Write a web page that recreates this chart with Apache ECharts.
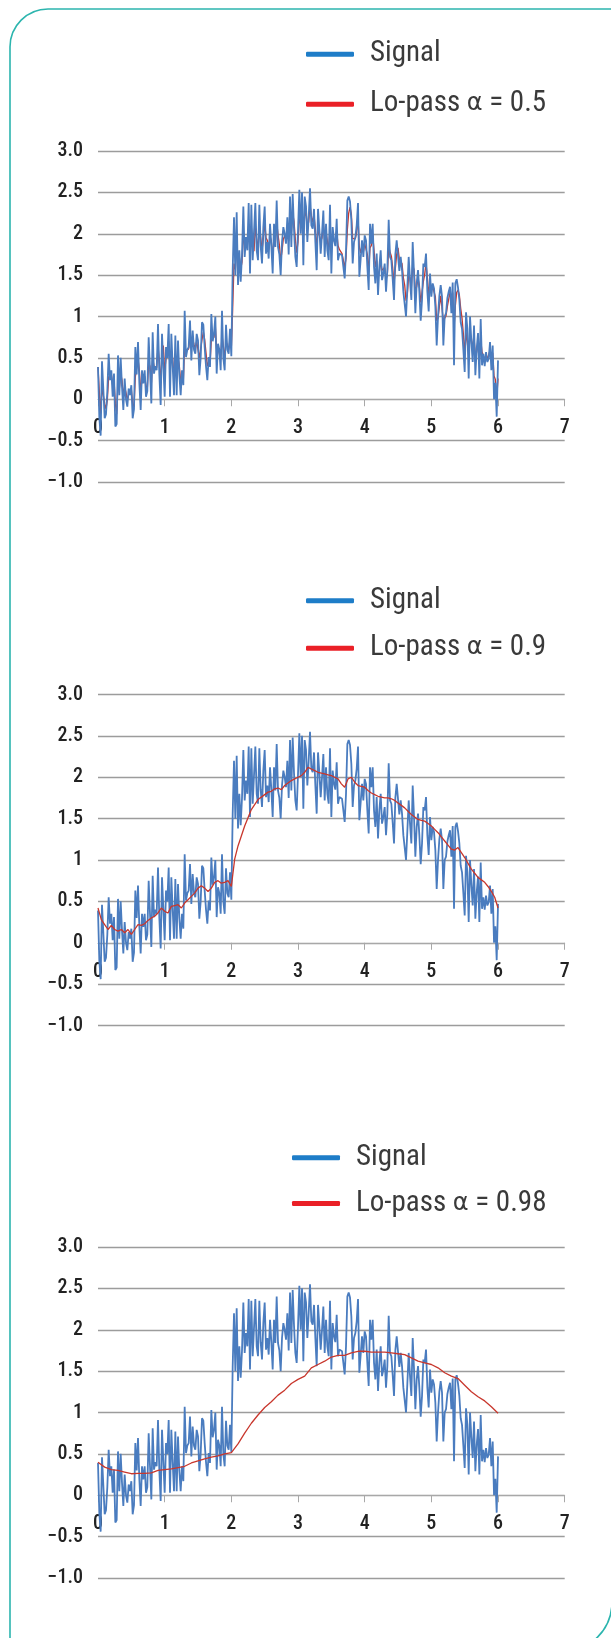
<!DOCTYPE html>
<html>
<head>
<meta charset="utf-8">
<script src="https://cdn.jsdelivr.net/npm/echarts@6/dist/echarts.min.js"></script>
<style>
html,body{margin:0;padding:0;background:#fff;}
#chart{width:611px;height:1638px;}
</style>
</head>
<body>
<div id="chart"></div>
<script>
// ---- data ----
// noisy input signal, x = 0 .. 6 step 0.02
var signal = [
0.39,-0.22,-0.44,0.46,0.12,-0.23,-0.18,0.10,0.55,0.23,
0.35,0.03,0.31,-0.33,-0.30,0.53,0.05,0.50,0.15,-0.13,
0.25,0.00,-0.09,0.13,0.05,0.17,-0.23,-0.12,0.63,0.30,
0.69,0.20,-0.13,0.35,0.19,0.35,0.03,0.10,0.75,0.35,
-0.05,0.81,0.31,0.40,0.35,0.91,0.30,-0.07,0.79,0.81,
0.03,0.63,0.50,0.91,0.03,0.79,0.40,0.05,0.77,0.05,
0.71,0.30,0.05,0.35,0.17,1.07,0.51,0.60,0.63,0.95,
0.47,0.83,0.60,0.55,0.79,0.71,0.29,0.50,0.93,0.90,
0.63,0.40,0.23,0.51,0.39,1.03,0.70,0.79,1.00,0.31,
0.67,0.60,0.35,1.07,0.50,0.35,0.90,0.60,0.55,0.85,
0.52,1.55,2.20,1.50,2.26,1.38,1.80,1.42,1.75,2.33,
1.72,1.96,1.80,2.37,1.52,2.35,1.68,1.70,2.37,1.80,
1.68,2.35,1.85,1.64,2.08,2.33,1.76,1.90,1.70,2.12,
1.85,1.52,2.12,1.84,2.40,1.84,1.75,1.50,1.90,2.08,
2.00,1.88,2.20,1.75,2.45,1.84,2.48,2.05,1.72,1.60,
2.04,2.53,2.00,2.50,1.62,2.45,2.33,1.90,2.20,2.55,
2.10,2.06,2.30,1.90,1.56,2.30,2.05,1.76,2.00,2.28,
1.72,2.12,1.80,1.68,2.35,1.52,2.08,1.92,1.85,2.18,
1.68,1.76,1.76,1.74,1.72,1.46,1.80,2.40,2.45,2.39,
2.16,1.64,1.90,1.96,2.10,2.37,1.48,1.70,1.92,1.72,
1.98,1.92,1.60,1.32,2.12,1.88,2.12,1.60,1.40,1.76,
1.26,1.60,1.80,1.44,1.52,1.64,1.30,1.56,2.17,1.72,
1.68,1.45,1.20,1.75,1.92,1.90,1.55,1.72,1.56,1.30,
1.28,1.00,1.35,1.72,1.44,1.20,1.90,1.52,1.04,1.40,
1.56,1.30,0.95,1.20,1.64,1.60,1.76,1.30,1.06,1.52,
1.24,1.40,1.34,1.12,0.65,1.00,1.25,1.38,1.24,0.65,
1.00,1.04,1.22,1.30,1.36,1.04,1.41,0.41,1.40,1.45,
1.35,1.20,0.93,0.85,0.60,0.33,1.05,0.85,0.25,1.00,
0.70,0.45,0.89,0.29,0.61,0.80,0.25,0.97,0.41,0.55,
0.40,0.57,0.45,0.49,0.69,0.35,0.65,0.00,0.20,-0.21,
0.47
];
// low-pass alpha = 0.5, x = 0 .. 6 step 0.02
var lowpass05 = [
0.39,0.09,-0.18,0.14,0.13,-0.05,-0.12,-0.01,0.27,0.25,
0.30,0.17,0.24,-0.05,-0.18,0.18,0.12,0.31,0.23,0.05,
0.15,0.08,-0.01,0.06,0.06,0.12,-0.06,-0.09,0.27,0.29,
0.49,0.35,0.11,0.23,0.21,0.28,0.16,0.13,0.44,0.40,
0.18,0.50,0.40,0.40,0.38,0.64,0.47,0.20,0.50,0.65,
0.34,0.49,0.49,0.70,0.37,0.58,0.49,0.27,0.52,0.28,
0.50,0.40,0.22,0.29,0.23,0.65,0.58,0.59,0.61,0.78,
0.62,0.73,0.66,0.61,0.70,0.70,0.50,0.50,0.72,0.81,
0.72,0.56,0.40,0.45,0.42,0.72,0.71,0.75,0.88,0.59,
0.63,0.62,0.48,0.78,0.64,0.50,0.70,0.65,0.60,0.72,
0.62,1.09,1.64,1.57,1.92,1.65,1.72,1.57,1.66,2.00,
1.86,1.91,1.86,2.11,1.82,2.08,1.88,1.79,2.08,1.94,
1.81,2.08,1.96,1.80,1.94,2.14,1.95,1.92,1.81,1.97,
1.91,1.71,1.92,1.88,2.14,1.99,1.87,1.68,1.79,1.94,
1.97,1.92,2.06,1.91,2.18,2.01,2.25,2.15,1.93,1.77,
1.90,2.22,2.11,2.30,1.96,2.21,2.27,2.08,2.14,2.35,
2.22,2.14,2.22,2.06,1.81,2.06,2.05,1.91,1.95,2.12,
1.92,2.02,1.91,1.80,2.07,1.80,1.94,1.93,1.89,2.04,
1.86,1.81,1.79,1.76,1.74,1.60,1.70,2.05,2.25,2.32,
2.24,1.94,1.92,1.94,2.02,2.20,1.84,1.77,1.85,1.78,
1.88,1.90,1.75,1.54,1.83,1.86,1.99,1.80,1.60,1.68,
1.47,1.54,1.67,1.56,1.54,1.59,1.45,1.51,1.84,1.78,
1.73,1.59,1.40,1.58,1.75,1.83,1.69,1.71,1.64,1.47,
1.38,1.19,1.27,1.50,1.47,1.34,1.62,1.57,1.31,1.36,
1.46,1.38,1.17,1.19,1.42,1.51,1.64,1.47,1.27,1.40,
1.32,1.36,1.35,1.24,0.95,0.98,1.12,1.25,1.25,0.95,
0.98,1.01,1.12,1.21,1.29,1.17,1.29,0.85,1.13,1.29,
1.32,1.26,1.10,0.98,0.79,0.56,0.81,0.83,0.54,0.77,
0.74,0.60,0.75,0.52,0.57,0.69,0.47,0.72,0.57,0.56,
0.48,0.53,0.49,0.49,0.59,0.47,0.56,0.28,0.24,0.02,
0.25
];
// low-pass alpha = 0.9, x = 0 .. 6 step 0.05
var lowpass09 = [
0.42,0.28,0.22,0.16,0.21,0.16,0.14,0.16,0.12,0.16,
0.10,0.16,0.22,0.21,0.23,0.27,0.30,0.32,0.36,0.42,
0.38,0.36,0.44,0.45,0.46,0.42,0.48,0.52,0.56,0.60,
0.66,0.69,0.66,0.62,0.66,0.73,0.75,0.72,0.73,0.75,
0.68,1.01,1.17,1.29,1.41,1.51,1.61,1.67,1.73,1.76,
1.79,1.82,1.83,1.86,1.87,1.85,1.90,1.93,1.96,1.98,
2.00,2.02,2.06,2.12,2.10,2.08,2.06,2.05,2.04,2.03,
2.02,2.00,1.98,1.92,1.88,1.98,2.00,1.94,1.90,1.89,
1.88,1.84,1.81,1.79,1.77,1.76,1.75,1.75,1.74,1.72,
1.69,1.66,1.63,1.59,1.55,1.52,1.49,1.48,1.47,1.44,
1.41,1.37,1.33,1.28,1.23,1.18,1.13,1.12,1.15,1.09,
1.03,0.96,0.89,0.84,0.79,0.76,0.73,0.68,0.62,0.55,
0.42
];
// low-pass alpha = 0.98, x = 0 .. 6 step 0.1
var lowpass098 = [
0.40,0.34,0.31,0.30,0.28,0.26,0.265,0.265,0.27,0.30,
0.31,0.32,0.335,0.35,0.39,0.415,0.44,0.46,0.475,0.50,
0.515,0.62,0.75,0.87,0.97,1.06,1.13,1.21,1.27,1.35,
1.40,1.44,1.54,1.58,1.62,1.67,1.69,1.69,1.72,1.74,
1.74,1.73,1.73,1.73,1.72,1.71,1.70,1.66,1.62,1.60,
1.58,1.54,1.48,1.44,1.41,1.33,1.25,1.19,1.14,1.07,
0.99
];
var alphas = ['0.5', '0.9', '0.98'];
var filtered = [lowpass05, lowpass09, lowpass098];
var yTickLabels = ['\u22121.0', '\u22120.5', '0', '0.5', '1', '1.5', '2', '2.5', '3.0'];
var xTickLabels = ['0', '1', '2', '3', '4', '5', '6', '7'];

// ---- pick a condensed face if one is installed ----
var ctx = document.createElement('canvas').getContext('2d');
function textW(font) { ctx.font = font; return ctx.measureText('Signal Lo-pass 0.98').width; }
var refW = textW("30px 'Liberation Sans', Arial, sans-serif");
var candidates = [
  {f: "'Liberation Sans Narrow'", s: ''},
  {f: "'Roboto Condensed'", s: ''},
  {f: "'DejaVu Sans Condensed'", s: ''},
  {f: "'Open Sans Condensed'", s: ''},
  {f: "'Noto Sans Condensed'", s: ''},
  {f: "'Open Sans'", s: 'condensed'},
  {f: "Roboto", s: 'condensed'},
  {f: "'Noto Sans'", s: 'condensed'},
  {f: "'DejaVu Sans'", s: 'condensed'},
  {f: "'Liberation Sans'", s: 'condensed'}
];
var pick = null;
for (var c = 0; c < candidates.length && !pick; c++) {
  var cd = candidates[c];
  var wMono = textW('30px monospace'), wSerif = textW('30px serif');
  var wPlainM = textW('30px ' + cd.f + ', monospace'), wPlainS = textW('30px ' + cd.f + ', serif');
  var present = Math.abs(wPlainM - wMono) > 0.5 || Math.abs(wPlainS - wSerif) > 0.5;
  if (!present) continue;
  var w = textW((cd.s ? cd.s + ' ' : '') + '30px ' + cd.f + ', monospace');
  if (w < refW * 0.9) pick = {family: cd.f + ', sans-serif', stretch: cd.s, ratio: w / refW};
}
var FONT = pick ? pick.family : "'Liberation Sans', Arial, sans-serif";
var STRETCH = pick && pick.stretch ? pick.stretch : '';
var narrow = !!pick;
var legendSize = narrow ? 29 : 23;
var axisSize = narrow ? 20 : 18;
var axisWeight = STRETCH ? ('500 ' + STRETCH) : '500';
var legendWeight = STRETCH ? ('normal ' + STRETCH) : 'normal';

// ---- chart ----
function toPairs(arr) {
  var n = arr.length, out = [];
  for (var i = 0; i < n; i++) out.push([6 * i / (n - 1), arr[i]]);
  return out;
}
var gridTops = [151, 694.5, 1247];
var legendCenters = [51.5, 598, 1155];
var legendGaps = [16, 13.5, 11.7];
var legendLefts = [306, 306, 292];
var grids = [], xAxes = [], yAxes = [], series = [], legends = [];
for (var p = 0; p < 3; p++) {
  var redName = 'Lo-pass \u03b1 = ' + alphas[p];
  grids.push({left: 98, width: 466.7, top: gridTops[p], height: 331, containLabel: false});
  xAxes.push({
    type: 'value', gridIndex: p, min: 0, max: 7, interval: 1,
    position: 'bottom', offset: -82.75,
    axisLine: {show: true, onZero: false, lineStyle: {color: '#a8a8a8', width: 1}},
    axisTick: {show: true, inside: false, length: 7, lineStyle: {color: '#a8a8a8', width: 1}},
    axisLabel: {margin: 19, fontSize: axisSize, color: '#222', fontFamily: FONT, fontWeight: axisWeight,
      formatter: function (v) { return xTickLabels[Math.round(v)]; }},
    splitLine: {show: false}
  });
  yAxes.push({
    type: 'value', gridIndex: p, min: -1, max: 3, interval: 0.5,
    axisLine: {show: false}, axisTick: {show: false},
    axisLabel: {margin: 15, fontSize: axisSize, color: '#222', fontFamily: FONT, fontWeight: axisWeight,
      formatter: function (v) { return yTickLabels[Math.round((v + 1) / 0.5)]; }},
    splitLine: {show: true, lineStyle: {color: '#9c9c9c', width: 1.4}}
  });
  series.push({
    name: 'Signal', type: 'line', xAxisIndex: p, yAxisIndex: p,
    data: toPairs(signal), showSymbol: false, symbol: 'none',
    lineStyle: {color: '#4a7cbf', width: 1.8}, itemStyle: {color: '#4a7cbf'},
    z: p === 0 ? 4 : 2, silent: true
  });
  series.push({
    name: redName, type: 'line', xAxisIndex: p, yAxisIndex: p,
    data: toPairs(filtered[p]), showSymbol: false, symbol: 'none',
    lineStyle: {color: '#c8372d', width: 1.3}, itemStyle: {color: '#c8372d'},
    z: 3, silent: true
  });
  legends.push({
    orient: 'vertical', left: legendLefts[p], top: legendCenters[p] - 14.3, padding: 0,
    itemWidth: 48, itemHeight: 5, itemGap: legendGaps[p], icon: 'roundRect',
    selectedMode: false,
    formatter: function (name) { return name.replace('\u03b1', '{al|\u03b1}'); },
    textStyle: {fontSize: legendSize, color: '#3a3a3a', fontFamily: FONT, fontWeight: legendWeight,
      lineHeight: 34, padding: [0, 0, 0, 11],
      rich: {al: {fontFamily: "'DejaVu Sans', sans-serif", fontWeight: 'normal', fontSize: legendSize - 5,
        color: '#3a3a3a', lineHeight: 34}}},
    data: [
      {name: 'Signal', itemStyle: {color: '#1e7dc8'}},
      {name: redName, itemStyle: {color: '#ea2027'}}
    ]
  });
}
var chart = echarts.init(document.getElementById('chart'), null, {renderer: 'canvas'});
chart.setOption({
  animation: false,
  backgroundColor: '#fff',
  grid: grids, xAxis: xAxes, yAxis: yAxes, series: series, legend: legends,
  graphic: [{
    type: 'rect', silent: true, z: -1,
    shape: {x: 10, y: 9, width: 602, height: 1643, r: [38, 0, 50, 0]},
    style: {fill: 'none', stroke: '#2cb5ae', lineWidth: 1.6}
  }]
});
</script>
</body>
</html>
